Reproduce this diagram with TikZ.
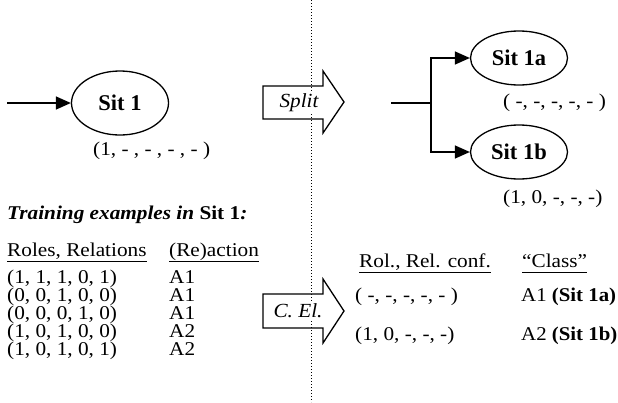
\documentclass[tikz,border=0pt]{standalone}
\usepackage{fontspec}
\setmainfont{Liberation Serif}
\usepackage{tikz}
\usetikzlibrary{arrows.meta}
\usetikzlibrary{shapes.geometric}

\begin{document}
\begin{tikzpicture}[x=1pt,y=-1pt,
        sit/.style={ellipse, draw=black, line width=1.3pt, inner sep=0pt,
            minimum width=97pt, minimum height=#1, font=\fontsize{22.5}{22.5}\selectfont\bfseries},
        sit/.default = 54pt,
        flow/.style={line width=1.4pt, -{Triangle[length=15pt,width=13pt]}},
        txt/.style={anchor=west, inner sep=0pt, text height=12.5pt, text depth=3.5pt,
            xscale=1.09, transform shape, font=\fontsize{19.5}{19.5}\selectfont},
        blockarrow/.style={draw=black, line width=1.3pt, line join=miter},
        steplabel/.style={inner sep=1pt, fill=white, xscale=1.06, transform shape, font=\fontsize{20}{20}\selectfont\itshape},
        uline/.style={line width=0.9pt},
    ]
    \useasboundingbox (0,0) rectangle (618,402);
    % Sit 1
    \node[sit=64pt] (sit1) at (120,103) {Sit 1};
    \coordinate (start) at (7,103);
    \draw[flow] (start) -- (sit1.west);
    \node[txt] (conf1) at (93,151) {(1, - , - , - , - )};
    % Split
    \draw[blockarrow] (263,86) -- (323,86) -- (323,71) -- (344,102) -- (323,133) -- (323,119) -- (263,119) -- cycle;
    % C. El.
    \draw[blockarrow] (263,294) -- (323,294) -- (323,279) -- (344,311) -- (323,343) -- (323,328) -- (263,328) -- cycle;
    % dotted divider
    \coordinate (dtop) at (311,0);
    \coordinate (dbot) at (311,402);
    \draw[dotted, line width=1pt] (dtop) -- (dbot);
    \node[steplabel] (split) at (299,103) {Split};
    \node[steplabel] (cel) at (298,311) {C. El.};
    % Sit 1a, Sit 1b
    \node[sit] (sit1a) at (519,58) {Sit 1a};
    \node[sit] (sit1b) at (519,152) {Sit 1b};
    \coordinate (in) at (391,103);
    \coordinate (fork) at (431,103);
    \draw[line width=1.4pt] (in) -- (fork);
    \draw[flow] (fork) |- (sit1a.west);
    \draw[flow] (fork) |- (sit1b.west);
    \node[txt] (conf1a) at (503,103) {( -, -, -, -, - )};
    \node[txt] (conf1b) at (503,199) {(1, 0, -, -, -)};
    % training examples
    \node[txt] (title) at (7,215) {\bfseries\itshape Training examples in \upshape Sit 1\itshape :};
    \node[txt] (hroles) at (7,252) {Roles, Relations};
    \node[txt] (hact) at (169,252) {(Re)action};
    \draw[uline] ([yshift=-1pt]hroles.south west) -- ([yshift=-1pt]hroles.south east);
    \draw[uline] ([yshift=-1pt]hact.south west) -- ([yshift=-1pt]hact.south east);
    \node[txt] (r1) at (7,279) {(1, 1, 1, 0, 1)};
    \node[txt] (a1) at (169,279) {A1};
    \node[txt] (r2) at (7,297) {(0, 0, 1, 0, 0)};
    \node[txt] (a2) at (169,297) {A1};
    \node[txt] (r3) at (7,315) {(0, 0, 0, 1, 0)};
    \node[txt] (a3) at (169,315) {A1};
    \node[txt] (r4) at (7,333) {(1, 0, 1, 0, 0)};
    \node[txt] (a4) at (169,333) {A2};
    \node[txt] (r5) at (7,351) {(1, 0, 1, 0, 1)};
    \node[txt] (a5) at (169,351) {A2};
    % class table
    \node[txt] (hconf) at (359,263) {Rol., Rel. conf.};
    \node[txt] (hclass) at (522,263) {``Class''};
    \draw[uline] ([yshift=-1pt]hconf.south west) -- ([yshift=-1pt]hconf.south east);
    \draw[uline] ([yshift=-1pt]hclass.south west) -- ([yshift=-1pt]hclass.south east);
    \node[txt] (c1) at (355,297) {( -, -, -, -, - )};
    \node[txt, xscale=0.98] (k1) at (521,297) {A1 \textbf{(Sit 1a)}};
    \node[txt] (c2) at (355,336) {(1, 0, -, -, -)};
    \node[txt, xscale=0.98] (k2) at (521,336) {A2 \textbf{(Sit 1b)}};
\end{tikzpicture}
\end{document}
